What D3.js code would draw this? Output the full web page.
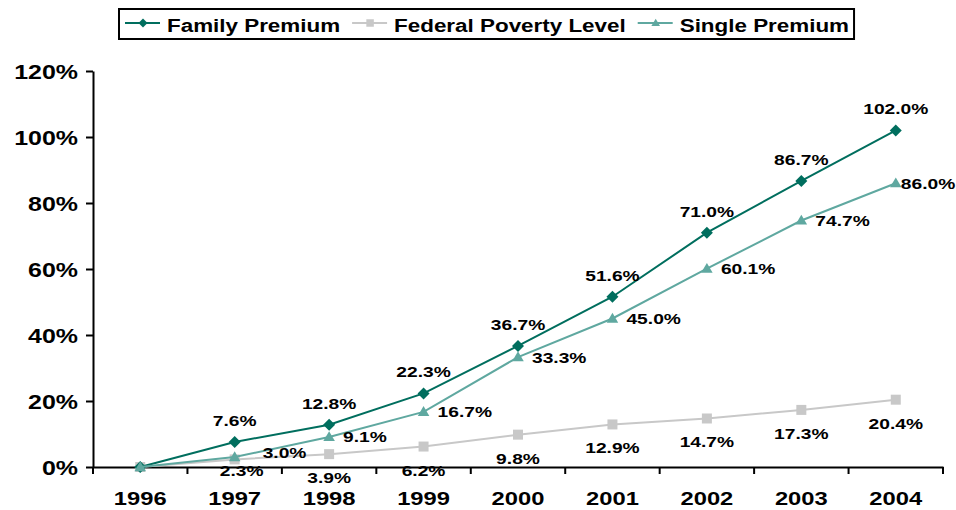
<!DOCTYPE html>
<html>
<head>
<meta charset="utf-8">
<script src="https://cdn.jsdelivr.net/npm/d3@7"></script>
<style>
  html, body { margin: 0; padding: 0; background: #fff; }
  svg { display: block; }
  text { font-family: "Liberation Sans", Arial, sans-serif; font-weight: bold; fill: #000; }
</style>
</head>
<body>
<div id="chart"></div>
<script>
// ---- data ----
const years = ["1996", "1997", "1998", "1999", "2000", "2001", "2002", "2003", "2004"];
const familyPremium = [0, 7.6, 12.8, 22.3, 36.7, 51.6, 71.0, 86.7, 102.0];
const federalPovertyLevel = [0, 2.3, 3.9, 6.2, 9.8, 12.9, 14.7, 17.3, 20.4];
const singlePremium = [0, 3.0, 9.1, 16.7, 33.3, 45.0, 60.1, 74.7, 86.0];
const yTicks = [0, 20, 40, 60, 80, 100, 120];
const seriesNames = ["Family Premium", "Federal Poverty Level", "Single Premium"];

// ---- layout ----
const W = 956, H = 510;
const margin = { left: 93, right: 13, top: 71, bottom: 43 };
const svg = d3.select("#chart").append("svg").attr("width", W).attr("height", H);

const x = d3.scaleBand().domain(years).range([margin.left, W - margin.right]).padding(0);
const y = d3.scaleLinear().domain([0, 120]).range([H - margin.bottom, margin.top]);
const cx = d => x(d) + x.bandwidth() / 2;

const colors = { family: "#006e5e", federal: "#c8c8c8", single: "#5fa8a0" };

const shapes = {
  diamond: s => `M0,${-s}L${s},0L0,${s}L${-s},0Z`,
  square: s => `M${-s},${-s}H${s}V${s}H${-s}Z`,
  triangle: s => `M0,${-s * 1.05}L${s * 1.05},${s * 0.75}L${-s * 1.05},${s * 0.75}Z`
};

const series = [
  { key: "federal", name: seriesNames[1], values: federalPovertyLevel, shape: "square", size: 5, pos: "below" },
  { key: "family", name: seriesNames[0], values: familyPremium, shape: "diamond", size: 6, pos: "above" },
  { key: "single", name: seriesNames[2], values: singlePremium, shape: "triangle", size: 5.5, pos: "right" }
];

// label nudges to avoid collisions (as in the original)
const nudges = { "federal-1997": [7, -12], "single-1997": [14, -5], "single-2004": [-9, 0] };

function sText(g, tx, ty, str, size, sx, anchor) {
  return g.append("text")
    .attr("transform", `translate(${tx},${ty}) scale(${sx},1)`)
    .attr("text-anchor", anchor)
    .style("font-size", size + "px")
    .text(str);
}

// ---- axes ----
const yAxis = svg.append("g")
  .attr("transform", `translate(${margin.left},0)`)
  .call(d3.axisLeft(y).tickValues(yTicks).tickSize(7).tickSizeOuter(0).tickFormat(d => d + "%"));
yAxis.select(".domain").attr("stroke", "#000").attr("stroke-width", 2);
yAxis.selectAll(".tick line").attr("stroke", "#000").attr("stroke-width", 2);
yAxis.selectAll(".tick text")
  .attr("x", 0).attr("dy", 0)
  .attr("transform", "translate(-15,7) scale(1.28,1)")
  .attr("text-anchor", "end")
  .attr("font-family", null).attr("font-size", null)
  .style("font-size", "19.5px");

const xAxisY = y(0);
const xAxis = svg.append("g")
  .attr("transform", `translate(0,${xAxisY})`)
  .call(d3.axisBottom(x).tickSize(0).tickSizeOuter(0));
xAxis.select(".domain").attr("stroke", "#000").attr("stroke-width", 2);
xAxis.selectAll(".tick line").remove();
xAxis.selectAll(".tick text")
  .attr("y", 0).attr("dy", 0)
  .attr("transform", "translate(0,38) scale(1.25,1)")
  .attr("font-family", null).attr("font-size", null)
  .style("font-size", "19px");

const boundaries = years.map(d => x(d)).concat([x.range()[1]]);
svg.append("g").selectAll("line").data(boundaries).join("line")
  .attr("x1", d => d).attr("x2", d => d)
  .attr("y1", xAxisY).attr("y2", xAxisY + 7)
  .attr("stroke", "#000").attr("stroke-width", 2);

// ---- series ----
const line = d3.line().x(d => cx(d.year)).y(d => y(d.v));
series.forEach(s => {
  const pts = years.map((yr, i) => ({ year: yr, v: s.values[i] }));
  const g = svg.append("g");
  g.append("path").datum(pts)
    .attr("d", line).attr("fill", "none")
    .attr("stroke", colors[s.key]).attr("stroke-width", 2);
  g.selectAll("path.m").data(pts).join("path").attr("class", "m")
    .attr("transform", d => `translate(${cx(d.year)},${y(d.v)})`)
    .attr("d", shapes[s.shape](s.size))
    .attr("fill", colors[s.key]);
});

// ---- data labels ----
const labelG = svg.append("g");
series.forEach(s => {
  years.forEach((yr, i) => {
    if (i === 0) return;
    const v = s.values[i];
    const px = cx(yr), py = y(v);
    const n = nudges[s.key + "-" + yr] || [0, 0];
    const str = v.toFixed(1) + "%";
    if (s.pos === "above") sText(labelG, px + n[0], py - 16 + n[1], str, 15.5, 1.24, "middle");
    else if (s.pos === "below") sText(labelG, px + n[0], py + 29 + n[1], str, 15.5, 1.24, "middle");
    else sText(labelG, px + 14 + n[0], py + 5.5 + n[1], str, 15.5, 1.24, "start");
  });
});

// ---- legend ----
const legendOrder = [series[1], series[0], series[2]];
const lg = svg.append("g");
const box = lg.append("rect").attr("x", 119).attr("y", 9).attr("height", 30)
  .attr("fill", "#fff").attr("stroke", "#000").attr("stroke-width", 2);
let lx = 125;
const ly = 23;
const lsx = 1.18;
legendOrder.forEach(s => {
  lg.append("line").attr("x1", lx).attr("x2", lx + 35).attr("y1", ly).attr("y2", ly)
    .attr("stroke", colors[s.key]).attr("stroke-width", 2);
  lg.append("path").attr("transform", `translate(${lx + 18},${ly})`)
    .attr("d", shapes[s.shape](s.size * 0.75)).attr("fill", colors[s.key]);
  const t = sText(lg, lx + 42, 32, s.name, 19, lsx, "start");
  const w = t.node().getComputedTextLength() * lsx;
  lx = lx + 42 + w + 12;
});
box.attr("width", lx - 12 + 5 - 119);
</script>
</body>
</html>
